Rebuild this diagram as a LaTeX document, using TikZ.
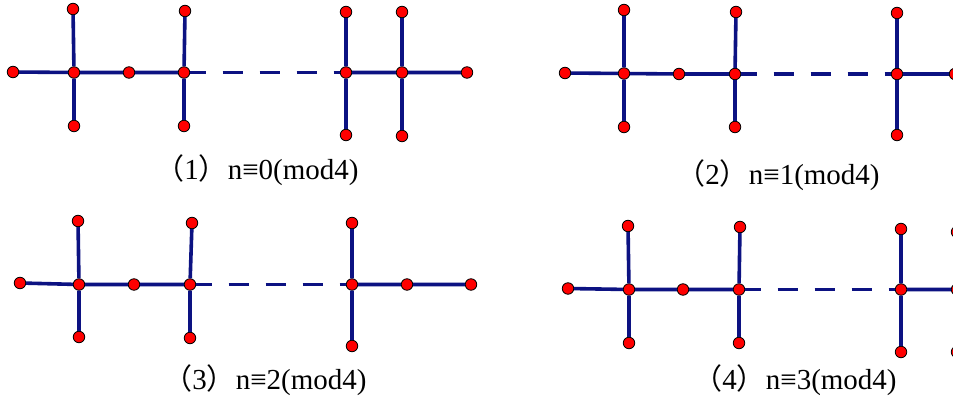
\documentclass[tikz,border=0pt]{standalone}
\usepackage{fontspec}
\setmainfont{Liberation Serif}
\newfontfamily\cjk{Noto Sans CJK SC}
\definecolor{edgecol}{RGB}{12,18,130}
\tikzset{
  vtx/.style={circle, fill=red, draw=black, line width=0.8pt, inner sep=0pt, minimum size=11.5pt},
  edg/.style={draw=edgecol, line width=3.6pt},
  dsh/.style={draw=edgecol, line width=3.6pt, dash pattern=on 15.5pt off 17pt on 20pt off 17pt on 20pt off 17pt on 20pt off 17pt on 40pt},
  lbl/.style={anchor=base, inner sep=0pt, font=\fontsize{29}{32}\selectfont}
}
\begin{document}
\begin{tikzpicture}[x=1pt,y=-1pt]
\useasboundingbox (0,0) rectangle (953,401);
\clip (0,0) rectangle (953,401);
\fill[white] (0,0) rectangle (953,401);
% ---------- panel 1 ----------
\node[vtx] (p1l) at (13,72) {};
\node[vtx] (p1a) at (74,72.5) {};
\node[vtx] (p1at) at (73,9) {};
\node[vtx] (p1ab) at (74,126) {};
\node[vtx] (p1m) at (129,72.5) {};
\node[vtx] (p1b) at (184,72.5) {};
\node[vtx] (p1bt) at (185,11) {};
\node[vtx] (p1bb) at (184,126) {};
\node[vtx] (p1c) at (346,72.5) {};
\node[vtx] (p1ct) at (346,12) {};
\node[vtx] (p1cb) at (346,135) {};
\node[vtx] (p1d) at (402,72.5) {};
\node[vtx] (p1dt) at (402,12) {};
\node[vtx] (p1db) at (402,136) {};
\node[vtx] (p1r) at (467,72.5) {};
\path[edg] (p1l)--(p1a) (p1a)--(p1at) (p1a)--(p1ab) (p1a)--(p1m) (p1m)--(p1b)
  (p1b)--(p1bt) (p1b)--(p1bb) (p1c)--(p1ct) (p1c)--(p1cb) (p1c)--(p1d)
  (p1d)--(p1dt) (p1d)--(p1db) (p1d)--(p1r);
\path[dsh] (p1b)--(p1c);
\node[lbl] (t1) at (257,179) {{\cjk （}1{\cjk ）}n≡0(mod4)};
% ---------- panel 2 ----------
\node[vtx] (p2l) at (565,73) {};
\node[vtx] (p2a) at (624,73.5) {};
\node[vtx] (p2at) at (624,10) {};
\node[vtx] (p2ab) at (624,127) {};
\node[vtx] (p2m) at (679,74) {};
\node[vtx] (p2b) at (735,74) {};
\node[vtx] (p2bt) at (736,12) {};
\node[vtx] (p2bb) at (735,127) {};
\node[vtx] (p2c) at (897,74) {};
\node[vtx] (p2ct) at (897,13) {};
\node[vtx] (p2cb) at (897,135) {};
\node[vtx] (p2r) at (955,74) {};
\path[edg] (p2l)--(p2a) (p2a)--(p2at) (p2a)--(p2ab) (p2a)--(p2m) (p2m)--(p2b)
  (p2b)--(p2bt) (p2b)--(p2bb) (p2c)--(p2ct) (p2c)--(p2cb) (p2c)--(p2r);
\path[dsh] (p2b)--(p2c);
\node[lbl] (t2) at (778,184) {{\cjk （}2{\cjk ）}n≡1(mod4)};
% ---------- panel 3 ----------
\node[vtx] (p3l) at (20,283) {};
\node[vtx] (p3a) at (79,284.5) {};
\node[vtx] (p3at) at (78,221) {};
\node[vtx] (p3ab) at (79,337) {};
\node[vtx] (p3m) at (134,284.5) {};
\node[vtx] (p3b) at (190,284.5) {};
\node[vtx] (p3bt) at (192,223) {};
\node[vtx] (p3bb) at (190,338) {};
\node[vtx] (p3c) at (352,284.5) {};
\node[vtx] (p3ct) at (352,223) {};
\node[vtx] (p3cb) at (352,346) {};
\node[vtx] (p3e) at (407,284.5) {};
\node[vtx] (p3r) at (471,284.5) {};
\path[edg] (p3l)--(p3a) (p3a)--(p3at) (p3a)--(p3ab) (p3a)--(p3m) (p3m)--(p3b)
  (p3b)--(p3bt) (p3b)--(p3bb) (p3c)--(p3ct) (p3c)--(p3cb) (p3c)--(p3e) (p3e)--(p3r);
\path[dsh] (p3b)--(p3c);
\node[lbl] (t3) at (265,389) {{\cjk （}3{\cjk ）}n≡2(mod4)};
% ---------- panel 4 ----------
\node[vtx] (p4l) at (568,288.5) {};
\node[vtx] (p4a) at (629,289.5) {};
\node[vtx] (p4at) at (628,226) {};
\node[vtx] (p4ab) at (629,343) {};
\node[vtx] (p4m) at (683,289.5) {};
\node[vtx] (p4b) at (739,289.5) {};
\node[vtx] (p4bt) at (740,227) {};
\node[vtx] (p4bb) at (739,343) {};
\node[vtx] (p4c) at (901,289.5) {};
\node[vtx] (p4ct) at (901,229) {};
\node[vtx] (p4cb) at (901,352) {};
\node[vtx] (p4d) at (957,289.5) {};
\node[vtx] (p4dt) at (957,232) {};
\node[vtx] (p4db) at (957,352) {};
\path[edg] (p4l)--(p4a) (p4a)--(p4at) (p4a)--(p4ab) (p4a)--(p4m) (p4m)--(p4b)
  (p4b)--(p4bt) (p4b)--(p4bb) (p4c)--(p4ct) (p4c)--(p4cb) (p4c)--(p4d)
  (p4d)--(p4dt) (p4d)--(p4db);
\path[dsh] (p4b)--(p4c);
\node[lbl] (t4) at (795,389) {{\cjk （}4{\cjk ）}n≡3(mod4)};
\end{tikzpicture}
\end{document}
